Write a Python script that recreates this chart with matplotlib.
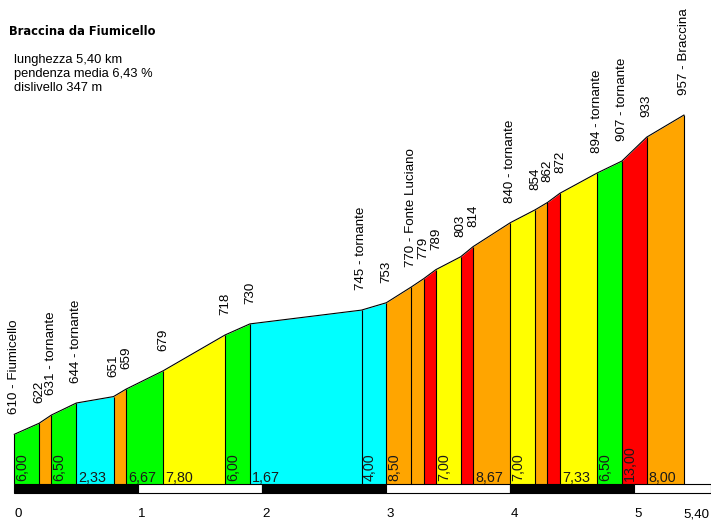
import matplotlib
matplotlib.use("Agg")
import matplotlib.pyplot as plt

# ---------------- data ----------------
km = [0.0, 0.2, 0.3, 0.5, 0.8, 0.9, 1.2, 1.7, 1.9, 2.8, 3.0, 3.2, 3.3, 3.4,
      3.6, 3.7, 4.0, 4.2, 4.3, 4.4, 4.7, 4.9, 5.1, 5.4]
elev = [610, 622, 631, 644, 651, 659, 679, 718, 730, 745, 753, 770, 779, 789,
        803, 814, 840, 854, 862, 872, 894, 907, 933, 957]
point_names = ["Fiumicello", "", "tornante", "tornante", "", "", "", "", "",
               "tornante", "", "Fonte Luciano", "", "", "", "", "tornante",
               "", "", "", "tornante", "tornante", "", "Braccina"]
gradients = [6.00, 9.00, 6.50, 2.33, 8.00, 6.67, 7.80, 6.00, 1.67, 4.00, 8.50,
             9.00, 10.00, 7.00, 11.00, 8.67, 7.00, 8.00, 10.00, 7.33, 6.50,
             13.00, 8.00]
km_ticks = [0, 1, 2, 3, 4, 5, 5.4]
km_tick_labels = ["0", "1", "2", "3", "4", "5", "5,40"]
title = "Braccina da Fiumicello"
info_lines = ["lunghezza 5,40 km", "pendenza media 6,43 %", "dislivello 347 m"]

# ---------------- style ----------------
def grad_color(g):
    if g < 5:
        return "#00FFFF"
    if g < 7:
        return "#00FF00"
    if g < 8:
        return "#FFFF00"
    if g < 10:
        return "#FFA500"
    return "#FF0000"

W, H = 711, 521
fig = plt.figure(figsize=(W / 100, H / 100), dpi=100)
ax = fig.add_axes([0, 0, 1, 1])
ax.set_axis_off()

# pixel calibration of the reference
px0, px_per_km = 14.3, 124.0
py610, py_per_m = 434.3, 0.92
ax.set_xlim(-px0 / px_per_km, (W - px0) / px_per_km)
ax.set_ylim(610 - (H - py610) / py_per_m, 610 + py610 / py_per_m)

base = 556.3
bar_lo = 546.0

LAB = "Liberation Sans"

# segments
for i in range(len(km) - 1):
    x = [km[i], km[i + 1]]
    y = [elev[i], elev[i + 1]]
    ax.fill_between(x, [base, base], y, color=grad_color(gradients[i]),
                    linewidth=0, zorder=1)
# profile line
ax.plot(km, elev, color="black", lw=0.8, zorder=3)
# vertical separators
ax.vlines(km, base, elev, colors="black", lw=0.8, zorder=3)

# gradient labels
for i, g in enumerate(gradients):
    w = km[i + 1] - km[i]
    txt = f"{g:.2f}".replace(".", ",")
    if w < 0.15:
        continue
    if w < 0.25:
        ax.annotate(txt, (km[i], base), xytext=(1, 3), textcoords="offset pixels",
                    rotation=90, ha="left", va="bottom", fontsize=10.3,
                    family=LAB, color="#1a1a1a", zorder=4)
    else:
        ax.annotate(txt, (km[i], base), xytext=(2, 2), textcoords="offset pixels",
                    ha="left", va="baseline", fontsize=10.3,
                    family=LAB, color="#1a1a1a", zorder=4)

# elevation labels
for k, e, n in zip(km, elev, point_names):
    txt = f"{e}" + (f" - {n}" if n else "")
    ax.annotate(txt, (k, e), xytext=(0, 20), textcoords="offset pixels",
                rotation=90, ha="center", va="bottom", fontsize=9.6,
                family=LAB, color="black", zorder=4)

# km bar
edges = km_ticks[:-1] + [ax.get_xlim()[1]]
for j in range(len(edges) - 1):
    black = (j % 2 == 0)
    ax.bar(edges[j], bar_lo - base, width=edges[j + 1] - edges[j], bottom=base,
           align="edge", color="black" if black else "white",
           edgecolor="black", linewidth=0.8, zorder=2)

# km tick labels
for t, lab in zip(km_ticks, km_tick_labels):
    ax.annotate(lab, (t, bar_lo), xytext=(0, -24), textcoords="offset pixels",
                ha="left", va="baseline", fontsize=9.6, family=LAB, color="black")

# title and info
fig.text(9 / W, 1 - 35 / H, title, fontsize=8.3, fontweight="bold",
         family="DejaVu Sans", va="baseline", ha="left")
for j, line in enumerate(info_lines):
    fig.text(14 / W, 1 - (63 + 14 * j) / H, line, fontsize=9.3, family=LAB,
             va="baseline", ha="left")

fig.savefig("out.png", dpi=100)
